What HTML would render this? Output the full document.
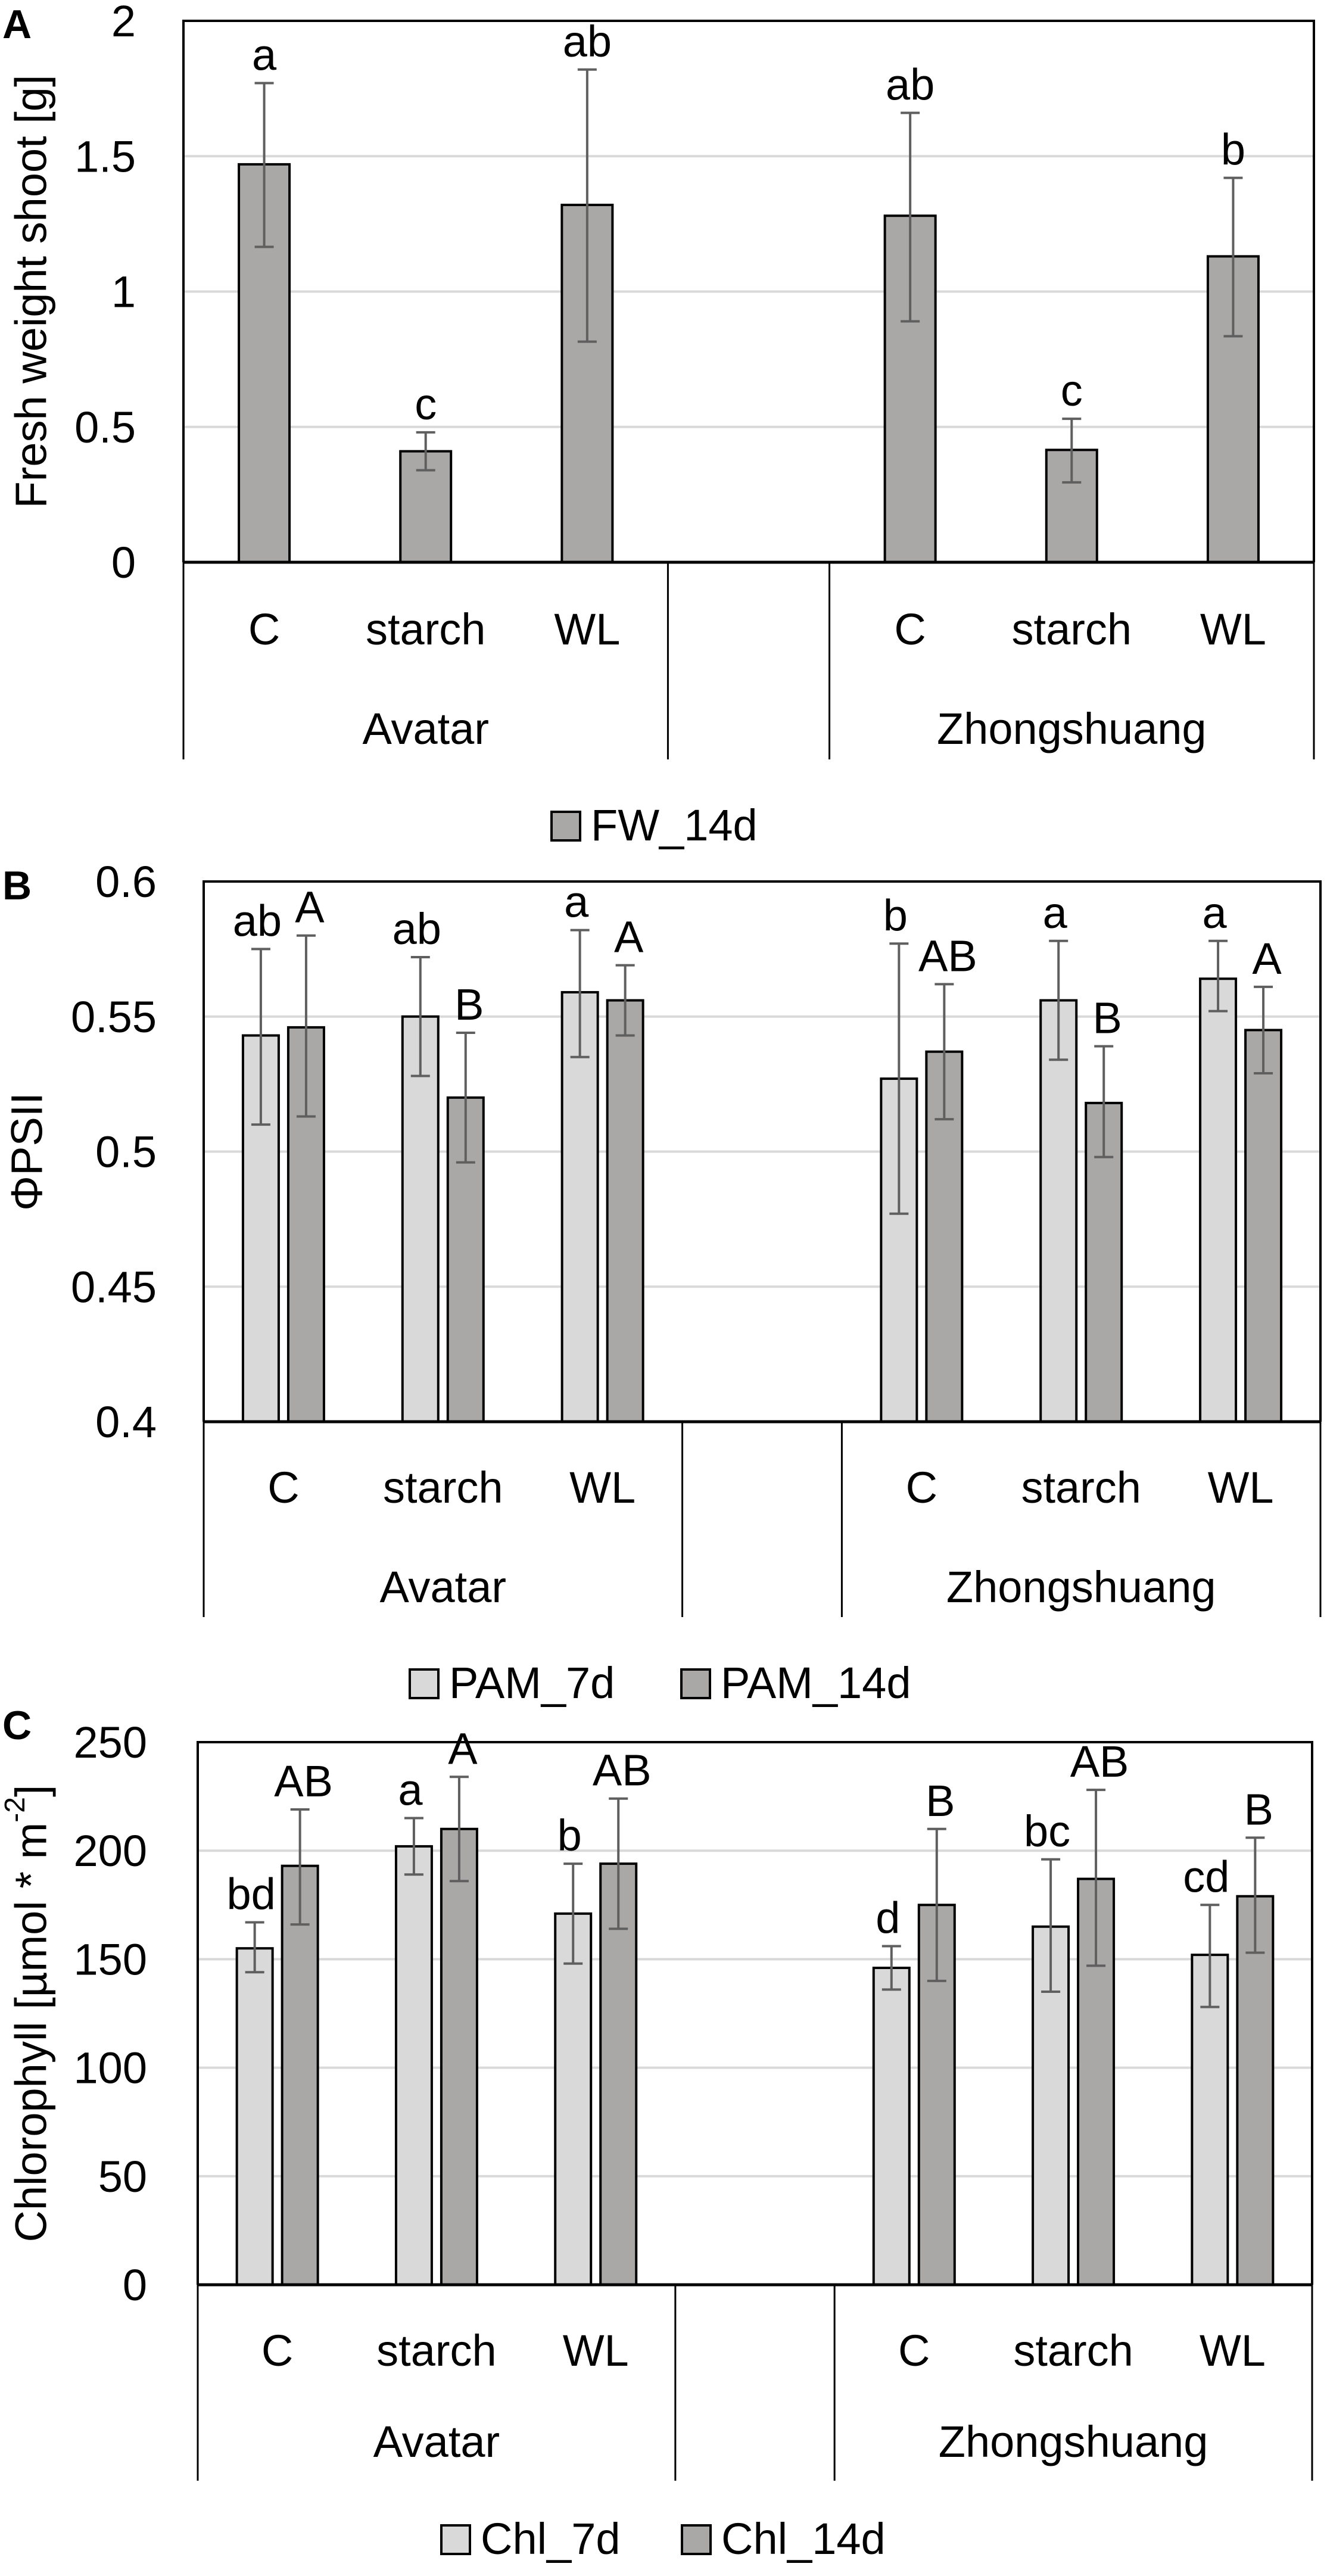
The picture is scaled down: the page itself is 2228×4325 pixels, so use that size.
<!DOCTYPE html>
<html><head><meta charset="utf-8"><style>
html,body{margin:0;padding:0;background:#fff;}
svg{display:block;font-family:"Liberation Sans",Arial,sans-serif;}
</style></head><body>
<svg id="fig" width="2228" height="4325" viewBox="0 0 2228 4325" xmlns="http://www.w3.org/2000/svg"></svg>
<script>
// ---- Data ----
const categories = ["C","starch","WL","C","starch","WL"];
const groups = ["Avatar","Zhongshuang"];
// Panel A
const fwValues = [1.47, 0.41, 1.32, 1.28, 0.415, 1.13];
const fwErrTop = [1.77, 0.48, 1.82, 1.66, 0.53, 1.42];
const fwErrBot = [1.165, 0.34, 0.815, 0.89, 0.295, 0.835];
const fwLetters = ["a","c","ab","ab","c","b"];
const fwTicks = [0, 0.5, 1, 1.5, 2];
const fwTickLabels = ["0","0.5","1","1.5","2"];
// Panel B
const pam7Values = [0.543, 0.550, 0.559, 0.527, 0.556, 0.564];
const pam7ErrTop = [0.575, 0.572, 0.582, 0.577, 0.578, 0.578];
const pam7ErrBot = [0.510, 0.528, 0.535, 0.477, 0.534, 0.552];
const pam7Letters = ["ab","ab","a","b","a","a"];
const pam14Values = [0.546, 0.520, 0.556, 0.537, 0.518, 0.545];
const pam14ErrTop = [0.580, 0.544, 0.569, 0.562, 0.539, 0.561];
const pam14ErrBot = [0.513, 0.496, 0.543, 0.512, 0.498, 0.529];
const pam14Letters = ["A","B","A","AB","B","A"];
const pamTicks = [0.4, 0.45, 0.5, 0.55, 0.6];
const pamTickLabels = ["0.4","0.45","0.5","0.55","0.6"];
// Panel C
const chl7Values = [155, 202, 171, 146, 165, 152];
const chl7ErrTop = [167, 215, 194, 156, 196, 175];
const chl7ErrBot = [144, 189, 148, 136, 135, 128];
const chl7Letters = ["bd","a","b","d","bc","cd"];
const chl14Values = [193, 210, 194, 175, 187, 179];
const chl14ErrTop = [219, 234, 224, 210, 228, 206];
const chl14ErrBot = [166, 186, 164, 140, 147, 153];
const chl14Letters = ["AB","A","AB","B","AB","B"];
const chlTicks = [0, 50, 100, 150, 200, 250];
const chlTickLabels = ["0","50","100","150","200","250"];

const NS = "http://www.w3.org/2000/svg";
const svg = document.getElementById("fig");
function mk(tag, attrs, parent, text){
  const e = document.createElementNS(NS, tag);
  for (const k in attrs) e.setAttribute(k, attrs[k]);
  if (text !== undefined) e.textContent = text;
  (parent||svg).appendChild(e);
  return e;
}
const LIGHT="#d9d9d9", DARK="#aaa7a7", ERR="#5f5f5f", FS=74;

function panel(cfg){
  const g = mk("g", {});
  
  
  const {top, zero, left, right, bottom, vmin, vmax} = cfg;
  const y = v => zero - (v - vmin) / (vmax - vmin) * (zero - top);
  const slot = (right - left) / 7;
  const slotIdx = [0,1,2,4,5,6];
  const cx = i => left + slot * (slotIdx[i] + 0.5);
  cfg.ticks.forEach((t, k) => {
    const yy = y(t);
    if (k > 0 && k < cfg.ticks.length - 1) {
      const gl = mk("line", {x1:left, x2:right, y1:yy, y2:yy, stroke:"#d9d9d9", "stroke-width":4}, g);
      
      
    }
    const tl = mk("text", {x:cfg.tickX, y:yy+26, "text-anchor":"end", "font-size":FS, fill:"#000"}, g, cfg.tickLabels[k]);
    
    
  });
  cfg.series.forEach((s, si) => {
    const n = cfg.series.length;
    const bw = n === 1 ? 85 : 60;
    const off = n === 1 ? 0 : (si === 0 ? -38 : 38);
    s.values.forEach((v, i) => {
      const x = cx(i) + off;
      const r = mk("rect", {x:x-bw/2, y:y(v), width:bw, height:zero-y(v), fill:s.color, stroke:"#000", "stroke-width":4}, g);
      
      
      const yt = y(s.errTop[i]), yb = y(s.errBot[i]);
      const eb = mk("path", {d:`M${x},${yt}V${yb}M${x-16},${yt}H${x+16}M${x-16},${yb}H${x+16}`, stroke:ERR, "stroke-width":4, fill:"none"}, g);
      
      
      const lt = mk("text", {x:x + (n===1?0:(si===0?-6:6)), y:yt-22, "text-anchor":"middle", "font-size":FS, fill:"#000"}, g, s.letters[i]);
      
      
    });
  });
  const fr = mk("path", {d:`M${left},${zero}V${top}H${right}V${zero}`, stroke:"#000", "stroke-width":4, fill:"none"}, g);
  
  
  const ax = mk("line", {x1:left, x2:right, y1:zero, y2:zero, stroke:"#000", "stroke-width":5}, g);
  
  
  [left, left+3*slot, left+4*slot, right].forEach(xx => {
    const d = mk("line", {x1:xx, x2:xx, y1:zero, y2:bottom, stroke:"#000", "stroke-width":3}, g);
    
    
  });
  categories.forEach((c, i) => {
    const t = mk("text", {x:cx(i), y:cfg.catY, "text-anchor":"middle", "font-size":FS}, g, c);
    
    
  });
  groups.forEach((gn, k) => {
    const t = mk("text", {x: k===0 ? left+1.5*slot : left+5.5*slot, y:cfg.groupY, "text-anchor":"middle", "font-size":FS}, g, gn);
    
    
  });
  const yc = (top+zero)/2;
  const tt = mk("text", {x:cfg.titleX, y:yc, "text-anchor":"middle", "font-size":FS, transform:`rotate(-90 ${cfg.titleX} ${yc})`, "dominant-baseline":"central"}, g, cfg.title);
  
  
  if (cfg.titleSup) {
    mk("tspan", {"baseline-shift":"super", "font-size":48}, tt, cfg.titleSup);
    mk("tspan", {}, tt, "]");
  }
  const pl = mk("text", {x:4, y:cfg.letterY, "font-size":68, "font-weight":"bold"}, g, cfg.letter);
  
  
  cfg.series.forEach(s => {
    const lg = mk("g", {}, g);
    
    
    mk("rect", {x:s.lx, y:cfg.legendY-48, width:48, height:48, fill:s.color, stroke:"#000", "stroke-width":4}, lg);
    mk("text", {x:s.lx+66, y:cfg.legendY, "font-size":FS}, lg, s.key);
  });
}

panel({name:"panel-a", letter:"A", letterY:64, top:35, zero:944, left:308, right:2206, bottom:1275,
  vmin:0, vmax:2, ticks:fwTicks, tickLabels:fwTickLabels, tickX:228,
  catY:1082, groupY:1249, legendY:1411, titleX:52, title:"Fresh weight shoot [g]",
  series:[{key:"FW_14d", color:DARK, values:fwValues, errTop:fwErrTop, errBot:fwErrBot, letters:fwLetters, lx:926}]});

panel({name:"panel-b", letter:"B", letterY:1510, top:1480, zero:2387, left:342, right:2217, bottom:2715,
  vmin:0.4, vmax:0.6, ticks:pamTicks, tickLabels:pamTickLabels, tickX:263,
  catY:2523, groupY:2690, legendY:2851, titleX:45, title:"ΦPSII",
  series:[{key:"PAM_7d", color:LIGHT, values:pam7Values, errTop:pam7ErrTop, errBot:pam7ErrBot, letters:pam7Letters, lx:688},
          {key:"PAM_14d", color:DARK, values:pam14Values, errTop:pam14ErrTop, errBot:pam14ErrBot, letters:pam14Letters, lx:1144}]});

panel({name:"panel-c", letter:"C", letterY:2920, top:2925, zero:3836, left:332, right:2203, bottom:4165,
  vmin:0, vmax:250, ticks:chlTicks, tickLabels:chlTickLabels, tickX:247,
  catY:3972, groupY:4125, legendY:4288, titleX:52, title:"Chlorophyll [µmol * m", titleSup:"-2",
  series:[{key:"Chl_7d", color:LIGHT, values:chl7Values, errTop:chl7ErrTop, errBot:chl7ErrBot, letters:chl7Letters, lx:741},
          {key:"Chl_14d", color:DARK, values:chl14Values, errTop:chl14ErrTop, errBot:chl14ErrBot, letters:chl14Letters, lx:1145}]});
</script>
</body></html>
